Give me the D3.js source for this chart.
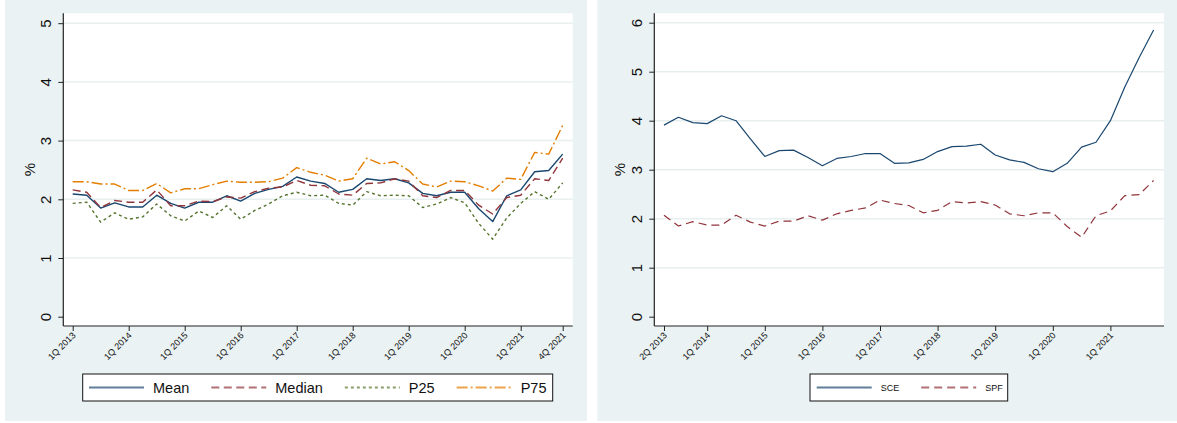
<!DOCTYPE html>
<html>
<head>
<meta charset="utf-8">
<script src="https://cdn.jsdelivr.net/npm/d3@7"></script>
<style>
  html, body { margin: 0; padding: 0; background: #ffffff; }
  svg { display: block; font-family: "Liberation Sans", Arial, Helvetica, sans-serif; }
</style>
</head>
<body>
<svg id="chart" width="1177" height="423"></svg>
<script>
// ---------- DATA ----------
// Left panel: 1Q 2013 .. 4Q 2021 (36 quarters)
const quartersLeft = ["1Q 2013","2Q 2013","3Q 2013","4Q 2013","1Q 2014","2Q 2014","3Q 2014","4Q 2014",
  "1Q 2015","2Q 2015","3Q 2015","4Q 2015","1Q 2016","2Q 2016","3Q 2016","4Q 2016",
  "1Q 2017","2Q 2017","3Q 2017","4Q 2017","1Q 2018","2Q 2018","3Q 2018","4Q 2018",
  "1Q 2019","2Q 2019","3Q 2019","4Q 2019","1Q 2020","2Q 2020","3Q 2020","4Q 2020",
  "1Q 2021","2Q 2021","3Q 2021","4Q 2021"];
const meanValues   = [2.09,2.07,1.85,1.94,1.87,1.87,2.07,1.93,1.85,1.95,1.95,2.06,1.97,2.10,2.17,2.22,2.38,2.31,2.27,2.12,2.17,2.35,2.32,2.35,2.28,2.10,2.06,2.12,2.12,1.84,1.62,2.06,2.16,2.47,2.49,2.77];
const medianValues = [2.16,2.12,1.86,1.98,1.95,1.95,2.16,1.89,1.89,1.97,1.96,2.04,2.02,2.13,2.19,2.21,2.32,2.24,2.23,2.09,2.07,2.27,2.28,2.35,2.31,2.06,2.03,2.15,2.15,1.90,1.75,2.03,2.07,2.35,2.32,2.70];
const p25Values    = [1.93,1.95,1.61,1.77,1.66,1.70,1.92,1.72,1.63,1.80,1.69,1.89,1.66,1.81,1.92,2.06,2.12,2.06,2.07,1.93,1.90,2.13,2.06,2.07,2.06,1.86,1.92,2.03,1.94,1.59,1.32,1.68,1.93,2.13,2.00,2.28];
const p75Values    = [2.30,2.30,2.26,2.26,2.15,2.15,2.27,2.11,2.18,2.18,2.25,2.31,2.29,2.29,2.30,2.36,2.54,2.46,2.41,2.31,2.35,2.70,2.60,2.64,2.49,2.26,2.21,2.31,2.30,2.23,2.14,2.36,2.34,2.80,2.77,3.26];
const leftTickLabels = ["1Q 2013","1Q 2014","1Q 2015","1Q 2016","1Q 2017","1Q 2018","1Q 2019","1Q 2020","1Q 2021","4Q 2021"];
const leftYTicks = [0,1,2,3,4,5];

// Right panel: 2Q 2013 .. 4Q 2021 (35 quarters)
const quartersRight = quartersLeft.slice(1);
const sceValues = [3.91,4.07,3.96,3.94,4.10,4.00,3.63,3.27,3.39,3.40,3.25,3.08,3.23,3.27,3.33,3.33,3.13,3.14,3.21,3.37,3.47,3.48,3.52,3.30,3.20,3.15,3.02,2.96,3.13,3.46,3.56,4.00,4.69,5.29,5.85];
const spfValues = [2.07,1.85,1.94,1.87,1.87,2.07,1.93,1.85,1.95,1.95,2.06,1.97,2.10,2.17,2.22,2.38,2.31,2.27,2.12,2.17,2.35,2.32,2.35,2.28,2.10,2.06,2.12,2.12,1.84,1.62,2.06,2.16,2.47,2.49,2.78];
const rightTickLabels = ["2Q 2013","1Q 2014","1Q 2015","1Q 2016","1Q 2017","1Q 2018","1Q 2019","1Q 2020","1Q 2021"];
const rightYTicks = [0,1,2,3,4,5,6];

// ---------- STYLE ----------
const BG = "#eaf2f3", GRID = "#e8efef";
const NAVY = "#1a476f", MAROON = "#90353b", GREEN = "#55752f", ORANGE = "#e37e00";

const svg = d3.select("#chart");

function panel(cfg) {
  const g = svg.append("g");
  // graph region background
  g.append("rect").attr("x", cfg.bg[0]).attr("y", cfg.bg[1]).attr("width", cfg.bg[2]).attr("height", cfg.bg[3]).attr("fill", BG);
  // plot region
  const [px0, py0, px1, py1] = cfg.plot;
  g.append("rect").attr("x", px0).attr("y", py0).attr("width", px1 - px0).attr("height", py1 - py0).attr("fill", "#fff");

  const x = d3.scaleLinear().domain([0, cfg.categories.length - 1]).range(cfg.xr);
  const y = d3.scaleLinear().domain([0, d3.max(cfg.yTicks)]).range([cfg.y0, cfg.yTop]);

  // gridlines
  g.selectAll(".grid").data(cfg.yTicks.filter(d => d > 0)).join("line")
    .attr("x1", px0).attr("x2", px1)
    .attr("y1", d => y(d)).attr("y2", d => y(d))
    .attr("stroke", GRID).attr("stroke-width", 1.5);

  // lines
  cfg.series.forEach(s => {
    const line = d3.line().x((d, i) => x(i)).y(d => y(d));
    g.append("path").datum(s.values)
      .attr("d", line).attr("fill", "none")
      .attr("stroke", s.color).attr("stroke-width", s.width)
      .attr("stroke-dasharray", s.dash || null)
      .attr("stroke-linejoin", "round");
  });

  // y axis
  const yAxis = d3.axisLeft(y).tickValues(cfg.yTicks).tickSize(5).tickPadding(7).tickFormat(d3.format("d"));
  const ya = g.append("g").attr("transform", `translate(${px0},0)`).call(yAxis);
  ya.select(".domain").attr("d", `M0,${py0}V${py1}`).attr("stroke", "#222").attr("stroke-width", 1.2);
  ya.selectAll(".tick line").attr("stroke", "#222").attr("stroke-width", 1);
  ya.selectAll(".tick text")
    .attr("x", null).attr("dy", null)
    .attr("text-anchor", "middle")
    .attr("transform", "translate(-12,0) rotate(-90)")
    .attr("font-size", 15).attr("fill", "#111")
    .attr("font-family", "Liberation Sans, Arial, sans-serif");

  // x axis
  const idx = cfg.xTickLabels.map(l => cfg.categories.indexOf(l));
  const xAxis = d3.axisBottom(x).tickValues(idx).tickSize(5).tickFormat(i => cfg.categories[i]);
  const xa = g.append("g").attr("transform", `translate(0,${py1})`).call(xAxis);
  xa.select(".domain").attr("d", `M${px0},0H${px1}`).attr("stroke", "#222").attr("stroke-width", 1.2);
  xa.selectAll(".tick line").attr("stroke", "#222").attr("stroke-width", 1);
  xa.selectAll(".tick text")
    .attr("y", null).attr("dy", null)
    .attr("text-anchor", "end")
    .attr("transform", "translate(3,10) rotate(-45)")
    .attr("font-size", 9).attr("fill", "#111")
    .attr("font-family", "Liberation Sans, Arial, sans-serif");

  // % title
  g.append("text").attr("transform", `translate(${cfg.titleX},${(py0 + py1) / 2}) rotate(-90)`)
    .attr("text-anchor", "middle").attr("font-size", 15).attr("fill", "#111").text("%");

  // legend
  const L = cfg.legend;
  g.append("rect").attr("x", L.x).attr("y", L.y).attr("width", L.w).attr("height", L.h)
    .attr("fill", "#fff").attr("stroke", "#111").attr("stroke-width", 1);
  let cx = L.x + L.pad;
  const ly = L.y + L.h / 2;
  cfg.series.forEach(s => {
    g.append("line").attr("x1", cx).attr("x2", cx + L.key).attr("y1", ly).attr("y2", ly)
      .attr("stroke", s.color).attr("stroke-width", 2.2).attr("stroke-opacity", 0.7)
      .attr("stroke-dasharray", s.legendDash || s.dash || null);
    const t = g.append("text").attr("x", cx + L.key + L.textGap).attr("y", ly).attr("dy", "0.36em")
      .attr("font-size", L.font).attr("fill", "#111").text(s.name);
    cx = cx + L.key + L.textGap + t.node().getComputedTextLength() + L.itemGap;
  });
}

panel({
  bg: [5, 0, 582, 421],
  plot: [63.3, 13.3, 572.7, 326],
  xr: [72.7, 562.7],
  y0: 316.7, yTop: 23.2,
  yTicks: leftYTicks,
  categories: quartersLeft,
  xTickLabels: leftTickLabels,
  titleX: 34.5,
  series: [
    {name: "Mean", values: meanValues, color: NAVY, width: 1.4},
    {name: "Median", values: medianValues, color: MAROON, width: 1.4, dash: "8,4.5"},
    {name: "P25", values: p25Values, color: GREEN, width: 1.4, dash: "3,3"},
    {name: "P75", values: p75Values, color: ORANGE, width: 1.4, dash: "11,3,2,3"}
  ],
  legend: {x: 82.7, y: 374, w: 470, h: 27, pad: 6.3, key: 55, textGap: 9, itemGap: 22, font: 14.5}
});

panel({
  bg: [597.3, 0, 579.7, 421],
  plot: [654.3, 13.3, 1164, 326],
  xr: [664, 1153.6],
  y0: 316.7, yTop: 22.7,
  yTicks: rightYTicks,
  categories: quartersRight,
  xTickLabels: rightTickLabels,
  titleX: 624.5,
  series: [
    {name: "SCE", values: sceValues, color: NAVY, width: 1.2},
    {name: "SPF", values: spfValues, color: MAROON, width: 1.2, dash: "8,5"}
  ],
  legend: {x: 810, y: 374, w: 197.7, h: 27, pad: 6.7, key: 55, textGap: 9, itemGap: 22, font: 9}
});
</script>
</body>
</html>
